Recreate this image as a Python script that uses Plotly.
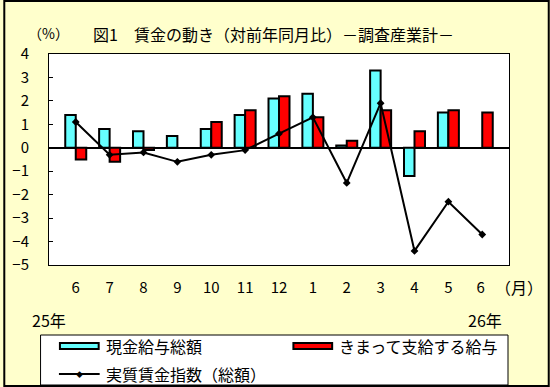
import plotly.graph_objects as go

months = ["6", "7", "8", "9", "10", "11", "12", "1", "2", "3", "4", "5", "6 "]
total_cash = [1.4, 0.8, 0.7, 0.5, 0.8, 1.4, 2.1, 2.3, 0.1, 3.3, -1.2, 1.5, None]
scheduled = [-0.5, -0.6, -0.1, None, 1.1, 1.6, 2.2, 1.3, 0.3, 1.6, 0.7, 1.6, 1.5]
real_index = [1.1, -0.3, -0.2, -0.6, -0.3, -0.1, 0.6, 1.3, -1.5, 1.9, -4.4, -2.3, -3.7]

names = ["現金給与総額", "きまって支給する給与", "実質賃金指数（総額）"]
y_ticks = [4, 3, 2, 1, 0, -1, -2, -3, -4, -5]

W, H = 550, 387
L, R, T, B = 46, 41, 54, 122
PW, PH = W - L - R, H - T - B

def px(x):
    return (x - L) / PW

def py(y):
    return (H - B - y) / PH

FONT = "Noto Sans CJK JP"
BG = "#FFFFCC"
CYAN = "#66FFFF"
RED = "#FF0000"

fig = go.Figure()
fig.add_trace(go.Bar(x=months, y=total_cash, name=names[0],
                     marker=dict(color=CYAN, line=dict(color="black", width=2)),
                     showlegend=False))
fig.add_trace(go.Bar(x=months, y=scheduled, name=names[1],
                     marker=dict(color=RED, line=dict(color="black", width=2)),
                     showlegend=False))
fig.add_trace(go.Scatter(x=months, y=real_index, name=names[2], mode="lines+markers",
                         line=dict(color="black", width=2),
                         marker=dict(symbol="diamond", size=6, color="black"),
                         showlegend=False))

shapes = [
    # outer frame
    dict(type="rect", xref="paper", yref="paper",
         x0=px(1), x1=px(W - 1), y0=py(H - 1), y1=py(1),
         line=dict(color="black", width=2), fillcolor="rgba(0,0,0,0)", layer="below"),
    # legend box
    dict(type="rect", xref="paper", yref="paper",
         x0=px(37.5), x1=px(508), y0=py(385), y1=py(335),
         line=dict(color="black", width=1), fillcolor="white"),
    dict(type="rect", xref="paper", yref="paper",
         x0=px(57), x1=px(96), y0=py(349), y1=py(343),
         line=dict(color="black", width=2), fillcolor=CYAN),
    dict(type="rect", xref="paper", yref="paper",
         x0=px(292), x1=px(331), y0=py(349), y1=py(343),
         line=dict(color="black", width=2), fillcolor=RED),
    dict(type="line", xref="paper", yref="paper",
         x0=px(56), x1=px(97), y0=py(374), y1=py(374),
         line=dict(color="black", width=2)),
]

annotations = [
    dict(text="（%）", x=px(45), y=py(33), xanchor="center", yanchor="middle",
         font=dict(family=FONT, size=14, color="black")),
    dict(text="図1　賃金の動き（対前年同月比）－調査産業計－", x=px(88), y=py(34),
         xanchor="left", yanchor="middle"),
    dict(text="（月）", x=px(519), y=py(287), xanchor="center", yanchor="middle"),
    dict(text="25年", x=px(46), y=py(320), xanchor="center", yanchor="middle"),
    dict(text="26年", x=px(485), y=py(320), xanchor="center", yanchor="middle"),
    dict(text=names[0], x=px(101), y=py(346), xanchor="left", yanchor="middle"),
    dict(text=names[1], x=px(336), y=py(346), xanchor="left", yanchor="middle"),
    dict(text=names[2], x=px(101), y=py(374), xanchor="left", yanchor="middle"),
    dict(text="◆", x=px(76.5), y=py(374), xanchor="center", yanchor="middle",
         font=dict(size=7, color="black")),
]
for a in annotations:
    a.update(xref="paper", yref="paper", showarrow=False)
    a.setdefault("font", dict(family=FONT, size=16, color="black"))

fig.update_layout(
    width=W, height=H,
    margin=dict(l=L, r=R, t=T, b=B, pad=0),
    paper_bgcolor=BG, plot_bgcolor="white",
    barmode="group", bargap=0.38, bargroupgap=0,
    font=dict(family=FONT, size=15, color="black"),
    shapes=shapes, annotations=annotations,
    showlegend=False,
)
fig.update_xaxes(showline=True, linecolor="black", linewidth=1, mirror=True,
                 showgrid=False, ticks="", ticklabelstandoff=9,
                 tickfont=dict(family=FONT, size=15))
fig.update_yaxes(range=[-5, 4], tickvals=y_ticks, ticktext=[str(v).replace("-", "−") for v in y_ticks],
                 showline=True, linecolor="black", linewidth=1, mirror=True,
                 showgrid=False, ticks="inside", ticklen=4, tickcolor="black",
                 zeroline=True, zerolinecolor="black", zerolinewidth=1.5,
                 ticklabelstandoff=16, tickfont=dict(family=FONT, size=15))

fig.write_html("out.html", config={"displayModeBar": False},
               post_script="document.body.style.margin='0';document.body.style.overflow='hidden';")
